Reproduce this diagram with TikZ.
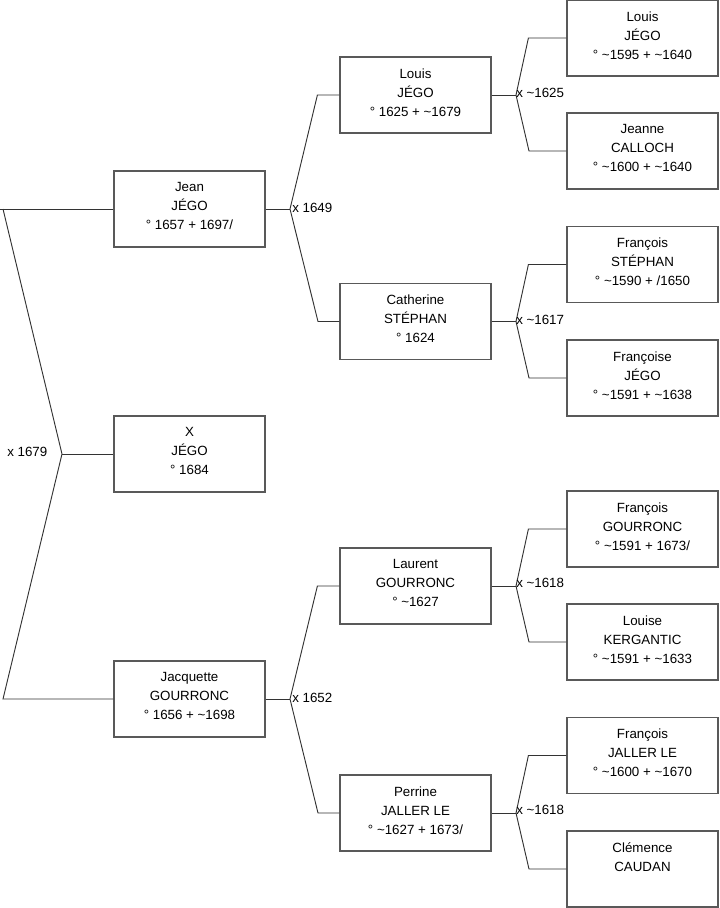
\documentclass[tikz,border=0pt]{standalone}
\usepackage{fontspec}
\setmainfont{Liberation Sans}
\begin{document}
\begin{tikzpicture}[x=0.75pt,y=-0.75pt,
  pbox/.style={draw=black!65,line width=0.9pt,minimum width=113.25pt,minimum height=57pt,inner sep=0pt},
  ptext/.style={anchor=north,align=center,font=\fontsize{10}{14.25}\selectfont,inner sep=0pt,yshift=-9pt},
  conn/.style={draw=black!80,line width=0.7pt},
  mlabel/.style={anchor=west,font=\fontsize{10}{12}\selectfont,inner sep=0pt}]
\useasboundingbox (0,0) rectangle (719,908);
% generation 1
\node[pbox] (jean) at (189.5,209) {};
\node[ptext] at (jean.north) {Jean\\JÉGO\\° 1657 + 1697/};
\node[pbox] (x) at (189.5,454) {};
\node[ptext] at (x.north) {X\\JÉGO\\° 1684};
\node[pbox] (jacq) at (189.5,699) {};
\node[ptext] at (jacq.north) {Jacquette\\GOURRONC\\° 1656 + \textasciitilde1698};
% generation 2
\node[pbox] (louis) at (415.5,95) {};
\node[ptext] at (louis.north) {Louis\\JÉGO\\° 1625 + \textasciitilde1679};
\node[pbox] (cath) at (415.5,321.5) {};
\node[ptext] at (cath.north) {Catherine\\STÉPHAN\\° 1624};
\node[pbox] (laur) at (415.5,586) {};
\node[ptext] at (laur.north) {Laurent\\GOURRONC\\° \textasciitilde1627};
\node[pbox] (perr) at (415.5,813) {};
\node[ptext] at (perr.north) {Perrine\\JALLER LE\\° \textasciitilde1627 + 1673/};
% generation 3
\node[pbox] (louis2) at (642.5,38) {};
\node[ptext] at (louis2.north) {Louis\\JÉGO\\° \textasciitilde1595 + \textasciitilde1640};
\node[pbox] (jeanne) at (642.5,151) {};
\node[ptext] at (jeanne.north) {Jeanne\\CALLOCH\\° \textasciitilde1600 + \textasciitilde1640};
\node[pbox] (fs) at (642.5,264.5) {};
\node[ptext] at (fs.north) {François\\STÉPHAN\\° \textasciitilde1590 + /1650};
\node[pbox] (fj) at (642.5,378) {};
\node[ptext] at (fj.north) {Françoise\\JÉGO\\° \textasciitilde1591 + \textasciitilde1638};
\node[pbox] (fg) at (642.5,529) {};
\node[ptext] at (fg.north) {François\\GOURRONC\\° \textasciitilde1591 + 1673/};
\node[pbox] (lk) at (642.5,642) {};
\node[ptext] at (lk.north) {Louise\\KERGANTIC\\° \textasciitilde1591 + \textasciitilde1633};
\node[pbox] (fjl) at (642.5,755.5) {};
\node[ptext] at (fjl.north) {François\\JALLER LE\\° \textasciitilde1600 + \textasciitilde1670};
\node[pbox] (cc) at (642.5,869) {};
\node[ptext] at (cc.north) {Clémence\\CAUDAN};
% root connectors
\coordinate (r0) at (0,209);
\coordinate (r1) at (3,209);
\coordinate (rm) at (62,454);
\coordinate (r2) at (3,699);
\draw[conn] (r0) -- (jean.west);
\draw[conn] (r1) -- (rm) -- (r2) -- (jacq.west);
\draw[conn] (rm) -- (x.west);
\node[mlabel] at (7,452) {x 1679};
% gen1 -> gen2
\coordinate (j1) at (290,209);
\draw[conn] (jean.east) -- (j1);
\draw[conn] (louis.west) -- ++(-22,0) -- (j1) -- (318,321.5) -- (cath.west);
\node[mlabel] at (292,208) {x 1649};
\coordinate (j2) at (290,699);
\draw[conn] (jacq.east) -- (j2);
\draw[conn] (laur.west) -- ++(-22,0) -- (j2) -- (318,813) -- (perr.west);
\node[mlabel] at (292,698) {x 1652};
% gen2 -> gen3
\coordinate (k1) at (516,95);
\draw[conn] (louis.east) -- (k1);
\draw[conn] (louis2.west) -- ++(-38,0) -- (k1) -- (529,151) -- (jeanne.west);
\node[mlabel] at (516,92.5) {x \textasciitilde1625};
\coordinate (k2) at (516,321.5);
\draw[conn] (cath.east) -- (k2);
\draw[conn] (fs.west) -- ++(-38,0) -- (k2) -- (529,378) -- (fj.west);
\node[mlabel] at (516,320) {x \textasciitilde1617};
\coordinate (k3) at (516,586);
\draw[conn] (laur.east) -- (k3);
\draw[conn] (fg.west) -- ++(-38,0) -- (k3) -- (529,642) -- (lk.west);
\node[mlabel] at (516,583) {x \textasciitilde1618};
\coordinate (k4) at (516,813);
\draw[conn] (perr.east) -- (k4);
\draw[conn] (fjl.west) -- ++(-38,0) -- (k4) -- (529,869) -- (cc.west);
\node[mlabel] at (516,810) {x \textasciitilde1618};
\end{tikzpicture}
\end{document}
